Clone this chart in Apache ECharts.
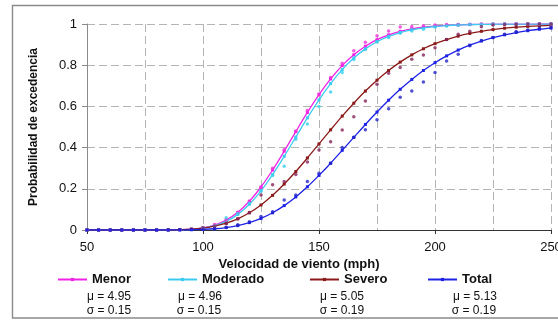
<!DOCTYPE html>
<html>
<head>
<meta charset="utf-8">
<script src="https://cdn.jsdelivr.net/npm/echarts@6/dist/echarts.min.js"></script>
<style>
  html, body { margin: 0; padding: 0; background: #fff; }
  #chart { width: 558px; height: 324px; }
</style>
</head>
<body>
<div id="chart"></div>
<script>
// Wind speed (mph) at which the fitted fragility curves are sampled
const windSpeed = [50, 55, 60, 65, 70, 75, 80, 85, 90, 95, 100, 105, 110, 115, 120, 125, 130, 135, 140, 145,
  150, 155, 160, 165, 170, 175, 180, 185, 190, 195, 200, 205, 210, 215, 220, 225, 230, 235, 240, 245, 250];

// Fitted lognormal exceedance probabilities per damage state
const menorFit = [0, 0, 0, 0, 0, 0, 0, 0.0004, 0.0013, 0.0041, 0.0108, 0.0242, 0.0482, 0.0858, 0.1394, 0.2087,
  0.2912, 0.3828, 0.4777, 0.5706, 0.6569, 0.7334, 0.7981, 0.8506, 0.8923, 0.9239, 0.9474, 0.9643, 0.9761, 0.9843,
  0.9899, 0.9936, 0.9959, 0.9975, 0.9984, 0.9991, 0.9994, 0.9997, 0.9998, 0.9999, 0.9999];
const moderadoFit = [0, 0, 0, 0, 0, 0, 0, 0.0003, 0.0011, 0.0034, 0.0090, 0.0207, 0.0418, 0.0758, 0.1251, 0.1900,
  0.2686, 0.3576, 0.4511, 0.5442, 0.6319, 0.7109, 0.7788, 0.8347, 0.8794, 0.9139, 0.9398, 0.9587, 0.9721, 0.9815,
  0.9879, 0.9922, 0.9951, 0.9969, 0.9981, 0.9988, 0.9993, 0.9996, 0.9997, 0.9998, 0.9999];
const severoFit = [0, 0, 0, 0, 0, 0, 0.0002, 0.0007, 0.0019, 0.0045, 0.0096, 0.0186, 0.0330, 0.0541, 0.0835, 0.1216,
  0.1683, 0.2230, 0.2840, 0.3497, 0.4180, 0.4861, 0.5529, 0.6156, 0.6744, 0.7271, 0.7743, 0.8151, 0.8502, 0.8798,
  0.9044, 0.9246, 0.9411, 0.9542, 0.9647, 0.9730, 0.9795, 0.9845, 0.9883, 0.9912, 0.9935];
const totalFit = [0, 0, 0, 0, 0, 0, 0, 0.0001, 0.0005, 0.0012, 0.0029, 0.0061, 0.0119, 0.0213, 0.0357, 0.0561,
  0.0835, 0.1184, 0.1606, 0.2098, 0.2650, 0.3242, 0.3867, 0.4495, 0.5124, 0.5726, 0.6301, 0.6830, 0.7310, 0.7743,
  0.8122, 0.8452, 0.8735, 0.8972, 0.9173, 0.9340, 0.9476, 0.9586, 0.9675, 0.9746, 0.9804];

// Wind speed (mph) of the simulated points
const obsSpeed = [100, 105, 110, 115, 120, 125, 130, 135, 140, 145, 150, 155, 160, 165, 170, 175, 180, 185, 190, 195,
  200, 205, 210, 215, 220, 225, 230, 235, 240, 245, 250];

// Simulated exceedance probabilities per damage state
const menorObs = [0.01, 0.025, 0.05, 0.085, 0.14, 0.205, 0.30, 0.39, 0.48, 0.58, 0.66, 0.74, 0.81, 0.87, 0.912,
  0.943, 0.966, 0.986, 0.988, 0.991, 0.995, 0.997, 0.998, 0.999, 1, 1, 1, 1, 1, 1, 1];
const moderadoObs = [0.01, 0.02, 0.06, 0.08, 0.13, 0.19, 0.265, 0.31, 0.44, 0.515, 0.60, 0.67, 0.765, 0.828, 0.876,
  0.915, 0.935, 0.955, 0.966, 0.974, 0.985, 0.99, 0.995, 0.997, 0.998, 1, 1, 1, 1, 1, 1];
const severoObs = [0.01, 0.018, 0.03, 0.055, 0.085, 0.17, 0.22, 0.235, 0.27, 0.33, 0.388, 0.429, 0.485, 0.55, 0.626,
  0.708, 0.761, 0.789, 0.829, 0.85, 0.885, 0.925, 0.95, 0.965, 0.987, 0.995, 0.998, 0.999, 1, 1, 1];
const totalObs = [0.003, 0.006, 0.012, 0.025, 0.04, 0.065, 0.089, 0.146, 0.17, 0.236, 0.276, 0.324, 0.40, 0.45, 0.487,
  0.535, 0.589, 0.644, 0.675, 0.719, 0.764, 0.82, 0.853, 0.895, 0.92, 0.935, 0.95, 0.963, 0.971, 0.979, 0.982];

// Damage states and their lognormal parameters
const damageStates = ['Menor', 'Moderado', 'Severo', 'Total'];
const muLabels = ['μ = 4.95', 'μ = 4.96', 'μ = 5.05', 'μ = 5.13'];
const sigmaLabels = ['σ = 0.15', 'σ = 0.15', 'σ = 0.19', 'σ = 0.19'];

const FONT = '"Liberation Sans", Arial, Helvetica, sans-serif';
const lineColors = ['#F022E6', '#3CCBF0', '#8B1A1A', '#1E22E6'];
const dotColors = ['#F030D8', '#38D0EE', '#84245A', '#2424C8'];

const fits = [menorFit, moderadoFit, severoFit, totalFit];
const obs = [menorObs, moderadoObs, severoObs, totalObs];

const pair = (xs, ys) => xs.map((x, i) => [x, ys[i]]);

const series = [];
damageStates.forEach((name, i) => {
  series.push({
    name: name,
    type: 'line',
    data: pair(windSpeed, fits[i]),
    smooth: 0.3,
    symbol: 'rect',
    symbolSize: 3,
    showSymbol: true,
    lineStyle: { width: 1.3, color: lineColors[i] },
    itemStyle: { color: lineColors[i] },
    z: 3
  });
});
damageStates.forEach((name, i) => {
  series.push({
    name: name + ' (simulado)',
    type: 'scatter',
    data: pair(obsSpeed, obs[i]),
    symbol: 'circle',
    symbolSize: 3.5,
    itemStyle: { color: dotColors[i] },
    z: 4
  });
});

// Legend entries and the parameter captions underneath them
const legendLeft = [57, 167, 309, 427];
const muCenter = [109, 200, 342, 475];
const sigmaCenter = [109, 199, 342, 474];

const graphics = [
  {
    type: 'rect',
    shape: { x: 12.5, y: 5.5, width: 560, height: 312.5 },
    style: { fill: 'none', stroke: '#8a8a8a', lineWidth: 1.4 },
    silent: true
  },
  {
    type: 'text',
    x: 299, y: 264,
    style: {
      text: 'Velocidad de viento (mph)', font: 'bold 13px ' + FONT,
      fill: '#111', textAlign: 'center', textVerticalAlign: 'middle'
    }
  }
];
damageStates.forEach((n, i) => {
  graphics.push({
    type: 'text', x: muCenter[i], y: 297,
    style: { text: muLabels[i], font: '12px ' + FONT, fill: '#111', textAlign: 'center', textVerticalAlign: 'middle' }
  });
  graphics.push({
    type: 'text', x: sigmaCenter[i], y: 311,
    style: { text: sigmaLabels[i], font: '12px ' + FONT, fill: '#111', textAlign: 'center', textVerticalAlign: 'middle' }
  });
});

const chart = echarts.init(document.getElementById('chart'), null, { renderer: 'canvas' });
chart.setOption({
  animation: false,
  backgroundColor: '#ffffff',
  grid: { left: 87, right: 7, top: 24, bottom: 94, containLabel: false, outerBoundsMode: 'none' },
  legend: damageStates.map((n, i) => ({
    data: [n],
    left: legendLeft[i],
    top: 273,
    padding: 0,
    itemWidth: 29,
    itemHeight: 4,
    selectedMode: false,
    textStyle: { fontFamily: FONT, fontSize: 13, fontWeight: 'bold', color: '#111' }
  })),
  xAxis: {
    type: 'value',
    min: 50,
    max: 250,
    interval: 50,
    axisLine: { show: true, lineStyle: { color: '#333', width: 1.2 } },
    axisTick: { show: true, length: 4, lineStyle: { color: '#333' } },
    axisLabel: { margin: 11, fontFamily: FONT, fontSize: 13, color: '#111', hideOverlap: false },
    splitLine: { show: true, lineStyle: { color: '#b4b4b4', type: [8, 4], width: 1 } },
    minorTick: { show: false, splitNumber: 2 },
    minorSplitLine: { show: true, lineStyle: { color: '#b4b4b4', type: [8, 4], width: 1 } }
  },
  yAxis: {
    type: 'value',
    min: 0,
    max: 1,
    interval: 0.2,
    name: 'Probabilidad de excedencia',
    nameLocation: 'middle',
    nameGap: 47,
    nameTextStyle: { fontFamily: FONT, fontSize: 12, fontWeight: 'bold', color: '#111' },
    axisLine: { show: true, lineStyle: { color: '#8a8a8a', width: 1 } },
    axisTick: { show: true, length: 5, lineStyle: { color: '#8a8a8a' } },
    axisLabel: { margin: 10, fontFamily: FONT, fontSize: 13, color: '#111' },
    splitLine: { show: true, lineStyle: { color: '#b4b4b4', type: [8, 4], width: 1 } }
  },
  graphic: graphics,
  series: series
});
</script>
</body>
</html>
